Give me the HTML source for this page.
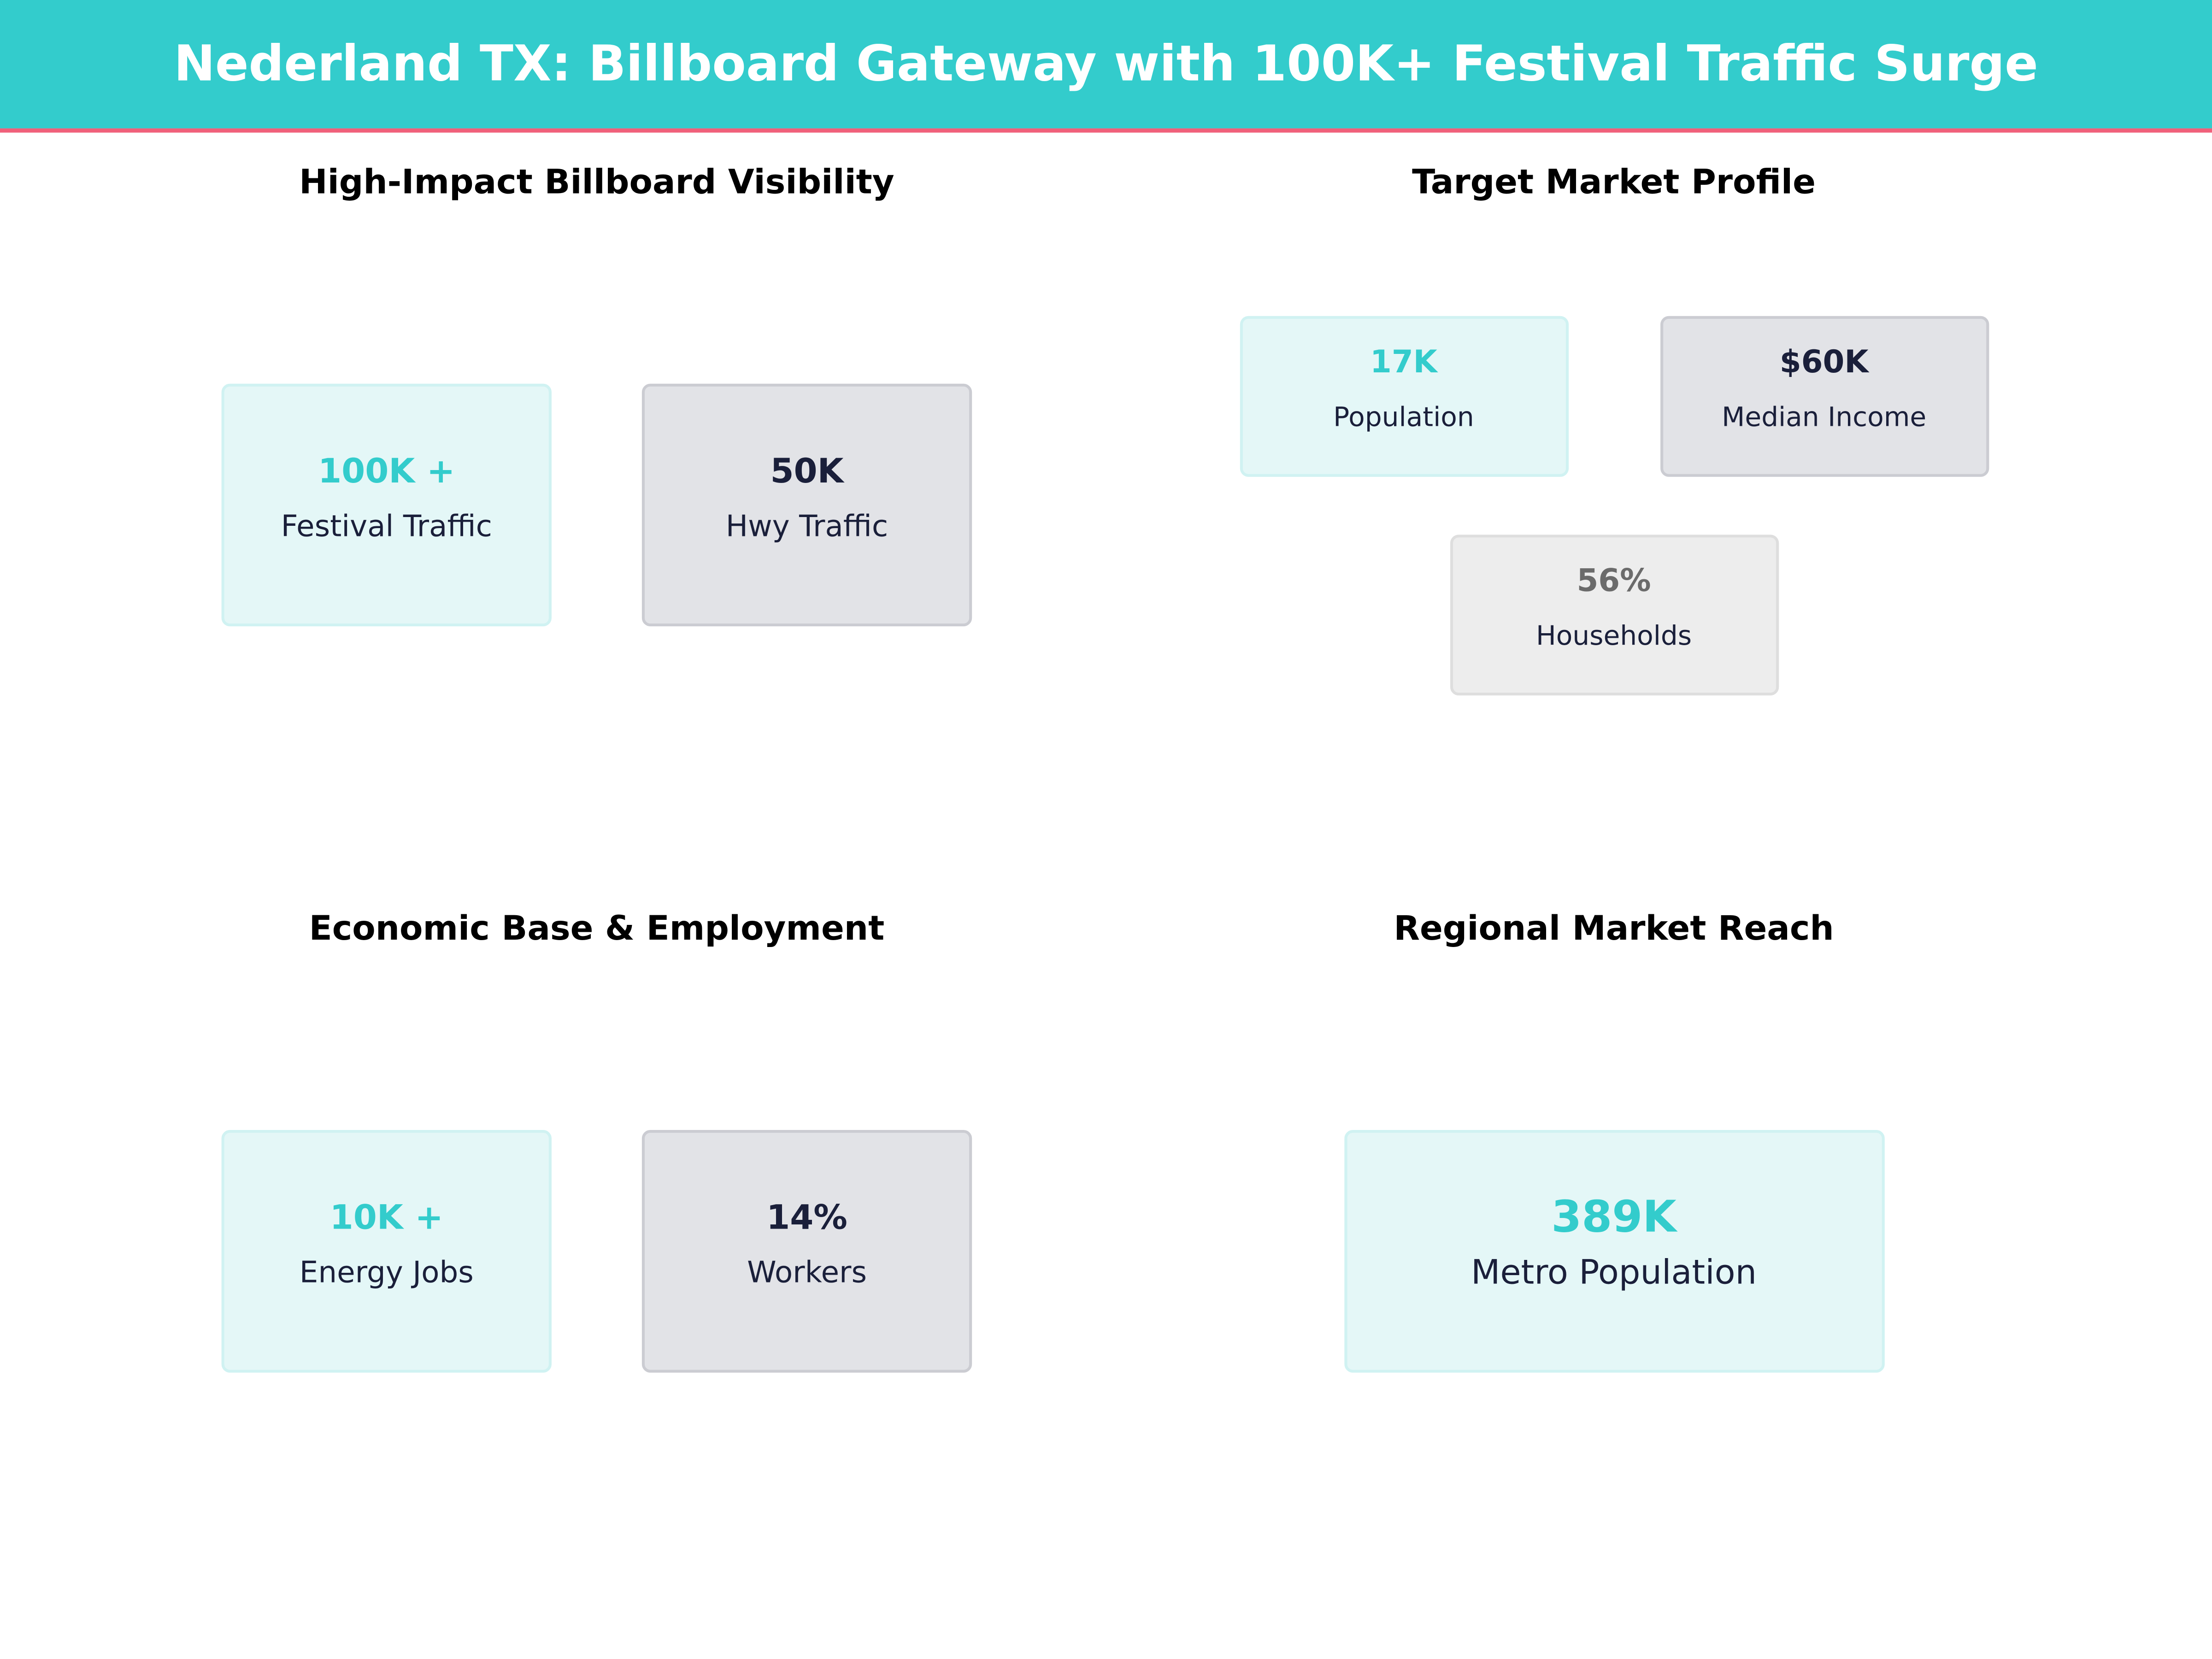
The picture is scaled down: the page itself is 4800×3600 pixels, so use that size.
<!DOCTYPE html>
<html><head><meta charset="utf-8">
<style>
html,body{margin:0;padding:0;background:#fff;}
svg{display:block;font-family:"DejaVu Sans","Liberation Sans",sans-serif;}
.sec{font-size:24px;font-weight:bold;fill:#000;text-anchor:middle;}
.v{font-weight:bold;text-anchor:middle;}
.l{fill:#1a1f3a;text-anchor:middle;}
.t{fill:#E4F7F7;stroke:#D0F2F2;stroke-width:2;}
.g{fill:#E2E3E7;stroke:#CBCCD2;stroke-width:2;}
.lg{fill:#EDEDED;stroke:#DEDEDE;stroke-width:2;}
</style></head>
<body>
<svg width="4800" height="3600" viewBox="0 0 1568 1176" xmlns="http://www.w3.org/2000/svg">
  <rect x="0" y="0" width="1568" height="91" fill="#33CCCC"/>
  <rect x="0" y="91" width="1568" height="3" fill="#F0607A"/>
  <text x="784" y="57" text-anchor="middle" font-size="35" font-weight="bold" fill="#fff">Nederland TX: Billboard Gateway with 100K+ Festival Traffic Surge</text>

  <text class="sec" x="423" y="137">High-Impact Billboard Visibility</text>
  <text class="sec" x="1144" y="137">Target Market Profile</text>
  <text class="sec" x="423" y="666">Economic Base &amp; Employment</text>
  <text class="sec" x="1144" y="666">Regional Market Reach</text>

  <g>
    <rect class="t" x="158" y="273" width="232" height="170" rx="5"/>
    <text class="v" x="274" y="342" font-size="24" fill="#33CCCC">100K +</text>
    <text class="l" x="274" y="380" font-size="21">Festival Traffic</text>
  </g>
  <g>
    <rect class="g" x="456" y="273" width="232" height="170" rx="5"/>
    <text class="v" x="572" y="342" font-size="24" fill="#1a1f3a">50K</text>
    <text class="l" x="572" y="380" font-size="21">Hwy Traffic</text>
  </g>

  <g>
    <rect class="t" x="880" y="225" width="231" height="112" rx="5"/>
    <text class="v" x="995" y="264" font-size="22" fill="#33CCCC">17K</text>
    <text class="l" x="995" y="302" font-size="19">Population</text>
  </g>
  <g>
    <rect class="g" x="1178" y="225" width="231" height="112" rx="5"/>
    <text class="v" x="1293" y="264" font-size="22" fill="#1a1f3a">$60K</text>
    <text class="l" x="1293" y="302" font-size="19">Median Income</text>
  </g>
  <g>
    <rect class="lg" x="1029" y="380" width="231" height="112" rx="5"/>
    <text class="v" x="1144" y="419" font-size="22" fill="#6b6b6b">56%</text>
    <text class="l" x="1144" y="457" font-size="19">Households</text>
  </g>

  <g>
    <rect class="t" x="158" y="802" width="232" height="170" rx="5"/>
    <text class="v" x="274" y="871" font-size="24" fill="#33CCCC">10K +</text>
    <text class="l" x="274" y="909" font-size="21">Energy Jobs</text>
  </g>
  <g>
    <rect class="g" x="456" y="802" width="232" height="170" rx="5"/>
    <text class="v" x="572" y="871" font-size="24" fill="#1a1f3a">14%</text>
    <text class="l" x="572" y="909" font-size="21">Workers</text>
  </g>

  <g>
    <rect class="t" x="954" y="802" width="381" height="170" rx="5"/>
    <text class="v" x="1144" y="873" font-size="31" fill="#33CCCC">389K</text>
    <text class="l" x="1144" y="910" font-size="24">Metro Population</text>
  </g>
</svg>
</body></html>
